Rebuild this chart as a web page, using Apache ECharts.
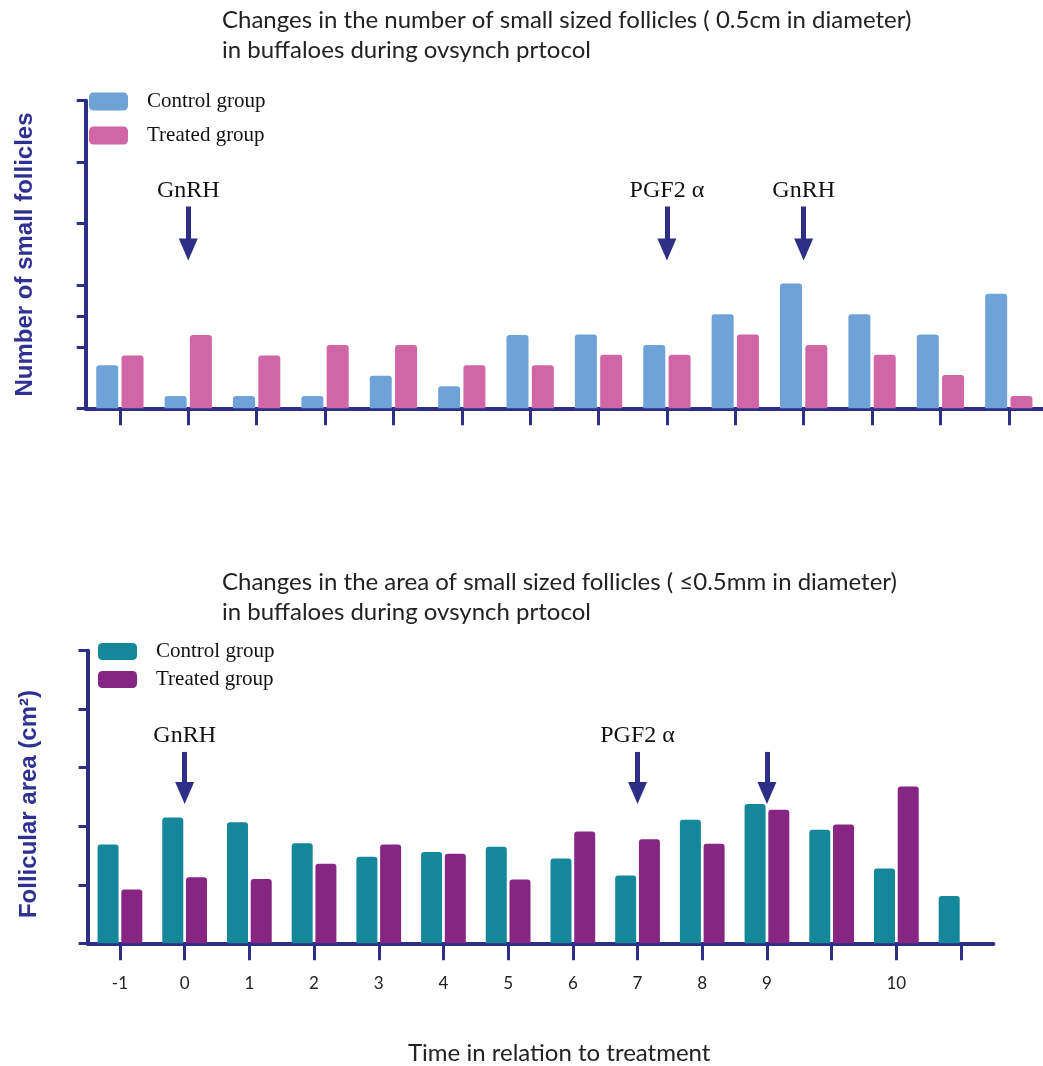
<!DOCTYPE html>
<html><head><meta charset="utf-8">
<script src="https://cdn.jsdelivr.net/npm/echarts@6/dist/echarts.min.js"></script>
<style>html,body{margin:0;padding:0;background:#fff}#c{width:1043px;height:1066px}</style>
</head><body><div id="c"></div>
<script>
// ---- data ----
const categories = ['-1','0','1','2','3','4','5','6','7','8','9','','10',' '];
const seriesNames = ['Control group', 'Treated group'];
const topControl   = [0.70,0.20,0.20,0.20,0.53,0.36,1.19,1.20,1.03,1.53,2.03,1.53,1.20,1.86];
const topTreated   = [0.86,1.19,0.86,1.03,1.03,0.70,0.70,0.87,0.87,1.20,1.03,0.87,0.54,0.20];
const bottomControl = [1.69,2.15,2.07,1.71,1.48,1.56,1.65,1.45,1.16,2.11,2.38,1.94,1.28,0.81];
const bottomTreated = [0.92,1.13,1.10,1.36,1.69,1.53,1.09,1.91,1.78,1.70,2.28,2.03,2.68,null];
const topYTicks = [0,1,1.5,2,3,4,5];
const bottomYTicks = [0,1,2,3,4,5];
const topArrows = [
  {cat:'0', from:3.28, to:2.58, text:'GnRH'},
  {cat:'7', from:3.28, to:2.58, text:'PGF2 α'},
  {cat:'9', from:3.28, to:2.58, text:'GnRH'}
];
const bottomArrows = [
  {cat:'0', from:3.27, to:2.57, text:'GnRH'},
  {cat:'7', from:3.27, to:2.57, text:'PGF2 α'},
  {cat:'9', from:3.27, to:2.57, text:''}
];
const topTitle = 'Changes in the number of small sized follicles ( 0.5cm in diameter)\nin buffaloes during ovsynch prtocol';
const bottomTitle = 'Changes in the area of small sized follicles ( \u22640.5mm in diameter)\nin buffaloes during ovsynch prtocol';
const xName = 'Time in relation to treatment';
const topYName = 'Number of small follicles';
const bottomYName = 'Follicular area (cm\u00b2)';

// ---- styles ----
const AX = '#2c2f85';
const C1 = '#6fa3d7', T1 = '#d066a6', C2 = '#14879b', T2 = '#862582';
const SANS = 'Lato', SERIF = 'Liberation Serif';

function arrowData(arrows) {
  return arrows.map(a => [
    {coord: [a.cat, a.from], label: {formatter: a.text}},
    {coord: [a.cat, a.to], label: {formatter: a.text}}
  ]);
}
function arrowSeries(grid, arrows) {
  return {
    type: 'line', xAxisIndex: grid, yAxisIndex: grid, data: [], silent: true,
    animation: false, showSymbol: false,
    markLine: {
      silent: true, animation: false,
      symbol: ['none', 'triangle'], symbolSize: [19, 22],
      lineStyle: {color: AX, width: 5, type: 'solid', opacity: 1},
      emphasis: {disabled: true},
      label: {show: true, position: 'start', distance: 4, color: '#111',
              fontFamily: SERIF, fontSize: 24},
      data: arrowData(arrows)
    }
  };
}
function yAxis(grid, ticks, name, gap, pad) {
  return {
    type: 'value', gridIndex: grid, min: 0, max: 5, interval: 1,
    splitLine: {show: false},
    axisLabel: {show: false},
    axisLine: {show: true, lineStyle: {color: AX, width: 4}},
    axisTick: {show: true, inside: false, length: 9, customValues: ticks,
               lineStyle: {color: AX, width: 3}},
    name: name, nameLocation: 'middle', nameGap: gap,
    nameTextStyle: {fontFamily: 'Liberation Sans', fontWeight: 'bold', fontSize: 24,
                    color: '#2e3192', padding: pad}
  };
}
function xAxis(grid, showLabels) {
  return {
    type: 'category', gridIndex: grid, data: categories,
    axisLine: {show: true, lineStyle: {color: AX, width: 4}},
    axisTick: {show: true, alignWithLabel: true, interval: 0, length: 17,
               lineStyle: {color: AX, width: 3}},
    axisLabel: {show: showLabels, interval: 0, margin: 32, fontFamily: SANS,
                fontSize: 17, color: '#222'},
    splitLine: {show: false}
  };
}
const barBase = {type: 'bar', animation: false, emphasis: {disabled: true}};
const titleStyle = {fontFamily: SANS, fontSize: 24, fontWeight: 'normal', color: '#222', lineHeight: 30};

const option = {
  backgroundColor: '#fff',
  title: [
    {text: topTitle, left: 222, top: 5, padding: 0, textStyle: titleStyle},
    {text: bottomTitle, left: 222, top: 567, padding: 0, textStyle: titleStyle},
    {text: xName, left: 408, top: 1038, padding: 0, textStyle: titleStyle}
  ],
  legend: [
    {orient: 'vertical', left: 89, top: 91, padding: 0, itemWidth: 39, itemHeight: 18, itemGap: 13,
     icon: 'roundRect', selectedMode: false, data: seriesNames,
     formatter: n => n.trim(),
     textStyle: {fontFamily: SERIF, fontSize: 21, color: '#111', padding: [0,0,0,14]}},
    {orient: 'vertical', left: 98, top: 641, padding: 0, itemWidth: 39, itemHeight: 17, itemGap: 7,
     icon: 'roundRect', selectedMode: false, data: seriesNames.map(n => n + ' '),
     formatter: n => n.trim(),
     textStyle: {fontFamily: SERIF, fontSize: 21, color: '#111', padding: [0,0,0,14]}}
  ],
  grid: [
    {left: 85.7, top: 100.7, width: 959.7, height: 307.6},
    {left: 87.6, top: 650.7, width: 905.8, height: 292.6}
  ],
  xAxis: [xAxis(0, false), xAxis(1, true)],
  yAxis: [yAxis(0, topYTicks, topYName, 48, 0), yAxis(1, bottomYTicks, bottomYName, 46, [0, 14, 0, 0])],
  series: [
    Object.assign({}, barBase, {name: seriesNames[0], xAxisIndex: 0, yAxisIndex: 0, data: topControl,
      barWidth: 22, barGap: '15%', itemStyle: {color: C1, borderRadius: [3,3,0,0]}}),
    Object.assign({}, barBase, {name: seriesNames[1], xAxisIndex: 0, yAxisIndex: 0, data: topTreated,
      barWidth: 22, barGap: '15%', itemStyle: {color: T1, borderRadius: [3,3,0,0]}}),
    Object.assign({}, barBase, {name: seriesNames[0] + ' ', xAxisIndex: 1, yAxisIndex: 1, data: bottomControl,
      barWidth: 21, barGap: '13%', itemStyle: {color: C2, borderRadius: [3,3,0,0]}}),
    Object.assign({}, barBase, {name: seriesNames[1] + ' ', xAxisIndex: 1, yAxisIndex: 1, data: bottomTreated,
      barWidth: 21, barGap: '13%', itemStyle: {color: T2, borderRadius: [3,3,0,0]}}),
    arrowSeries(0, topArrows),
    arrowSeries(1, bottomArrows)
  ]
};
const chart = echarts.init(document.getElementById('c'), null, {renderer: 'canvas'});
chart.setOption(option);
</script>
</body></html>
